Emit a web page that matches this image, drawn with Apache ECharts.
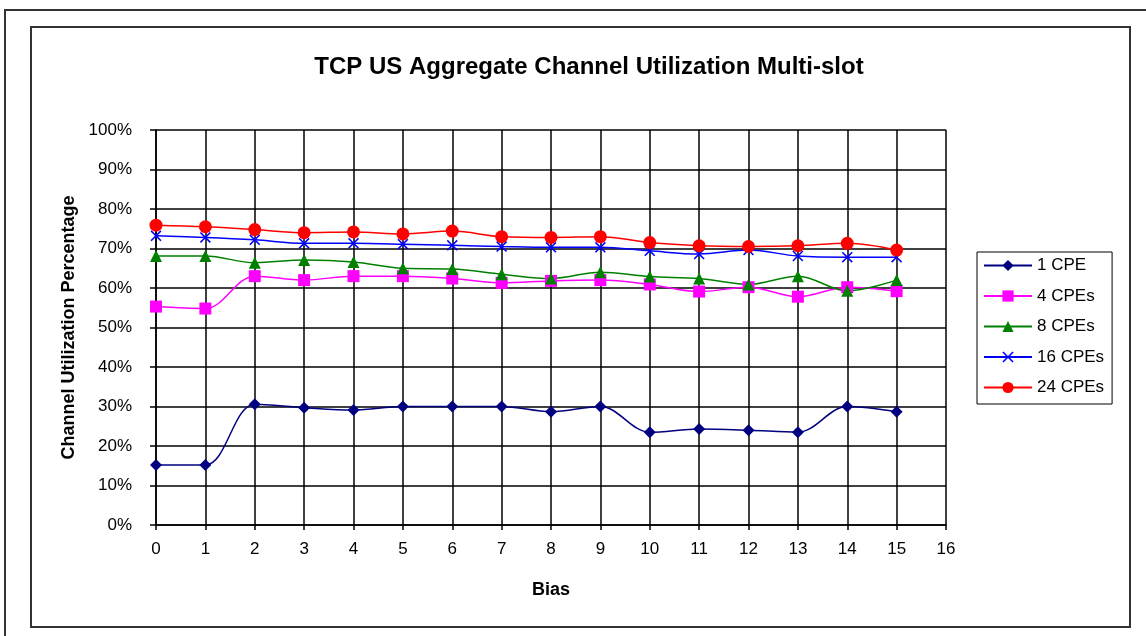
<!DOCTYPE html>
<html>
<head>
<meta charset="utf-8">
<title>TCP US Aggregate Channel Utilization Multi-slot</title>
<script src="https://cdn.jsdelivr.net/npm/echarts@6/dist/echarts.min.js"></script>
<style>
    html, body { margin: 0; padding: 0; background: #fff; }
    #chart { width: 1146px; height: 636px; }
</style>
</head>
<body>
<div id="chart"></div>
<script>
    // bias values on the x axis
    var bias = [0, 1, 2, 3, 4, 5, 6, 7, 8, 9, 10, 11, 12, 13, 14, 15];

    // channel utilization (%) per number of CPEs
    var cpe1  = [15.2, 15.2, 30.6, 29.7, 29.1, 30.0, 30.0, 30.0, 28.7, 30.0, 23.5, 24.3, 24.0, 23.5, 30.0, 28.7];
    var cpe4  = [55.3, 54.8, 63.0, 62.0, 63.0, 63.0, 62.4, 61.3, 61.8, 62.0, 60.9, 59.1, 60.2, 57.8, 60.2, 59.2];
    var cpe8  = [68.1, 68.1, 66.4, 67.1, 66.6, 65.0, 64.8, 63.5, 62.4, 64.0, 62.9, 62.4, 60.9, 63.0, 59.3, 62.0];
    var cpe16 = [73.2, 72.8, 72.2, 71.3, 71.3, 71.1, 70.8, 70.5, 70.3, 70.3, 69.4, 68.6, 69.6, 68.1, 67.8, 67.8];
    var cpe24 = [75.9, 75.5, 74.8, 74.0, 74.2, 73.7, 74.4, 73.0, 72.8, 73.0, 71.5, 70.7, 70.5, 70.7, 71.3, 69.6];

    var seriesNames = ['1 CPE', '4 CPEs', '8 CPEs', '16 CPEs', '24 CPEs'];

    var font = "'Liberation Sans', Arial, sans-serif";

    // excel style "x" marker
    var crossPath = 'path://M0,1 L1,0 L5,4 L9,0 L10,1 L6,5 L10,9 L9,10 L5,6 L1,10 L0,9 L4,5 Z';

    function pairs(values) {
        return values.map(function (v, i) { return [bias[i], v]; });
    }

    function lineSeries(name, values, color, symbol, size) {
        return {
            name: name,
            type: 'line',
            smooth: 0.35,
            data: pairs(values),
            symbol: symbol,
            symbolSize: size,
            lineStyle: { color: color, width: 1.5 },
            itemStyle: { color: color },
            emphasis: { disabled: true }
        };
    }

    var chart = echarts.init(document.getElementById('chart'));

    var option = {
        animation: false,
        backgroundColor: '#fff',
        title: {
            text: 'TCP US Aggregate Channel Utilization Multi-slot',
            left: 584,
            top: 50,
            textAlign: 'center',
            textStyle: { fontFamily: font, fontSize: 24, fontWeight: 'bold', color: '#000' }
        },
        legend: {
            orient: 'vertical',
            left: 977,
            top: 252,
            itemWidth: 48,
            itemHeight: 14,
            itemGap: 13.5,
            padding: [5, 8, 8, 6],
            borderColor: '#000',
            borderWidth: 1,
            data: seriesNames,
            textStyle: { fontFamily: font, fontSize: 17, color: '#000' }
        },
        grid: {
            left: 156,
            right: 200,
            top: 130,
            bottom: 111
        },
        xAxis: {
            type: 'value',
            min: 0,
            max: 16,
            interval: 1,
            name: 'Bias',
            nameLocation: 'middle',
            nameGap: 56,
            nameTextStyle: { fontFamily: font, fontSize: 18, fontWeight: 'bold', color: '#000' },
            axisLine: { show: true, lineStyle: { color: '#000', width: 1.5 } },
            axisTick: { show: true, length: 5, lineStyle: { color: '#000', width: 1.5 } },
            axisLabel: { fontFamily: font, fontSize: 17, color: '#000', margin: 16 },
            splitLine: { show: true, lineStyle: { color: '#000', width: 1.5 } }
        },
        yAxis: {
            type: 'value',
            min: 0,
            max: 100,
            interval: 10,
            name: 'Channel Utilization Percentage',
            nameLocation: 'middle',
            nameGap: 78,
            nameTextStyle: { fontFamily: font, fontSize: 18, fontWeight: 'bold', color: '#000' },
            axisLine: { show: true, lineStyle: { color: '#000', width: 1.5 } },
            axisTick: { show: true, length: 6, lineStyle: { color: '#000', width: 1.5 } },
            axisLabel: { fontFamily: font, fontSize: 17, color: '#000', margin: 24, formatter: '{value}%' },
            splitLine: { show: true, lineStyle: { color: '#000', width: 1.5 } }
        },
        // the two picture frames around the chart
        graphic: [
            {
                type: 'rect',
                shape: { x: 5, y: 10, width: 1200, height: 700 },
                style: { fill: 'none', stroke: '#333', lineWidth: 2 },
                silent: true
            },
            {
                type: 'rect',
                shape: { x: 31, y: 27, width: 1099, height: 600 },
                style: { fill: 'none', stroke: '#333', lineWidth: 2 },
                silent: true
            }
        ],
        series: [
            lineSeries('1 CPE', cpe1, '#000080', 'diamond', 12),
            lineSeries('4 CPEs', cpe4, '#ff00ff', 'rect', 12),
            lineSeries('8 CPEs', cpe8, '#008000', 'triangle', 12),
            lineSeries('16 CPEs', cpe16, '#0000ff', crossPath, 11),
            lineSeries('24 CPEs', cpe24, '#ff0000', 'circle', 13)
        ]
    };

    chart.setOption(option);
</script>
</body>
</html>
